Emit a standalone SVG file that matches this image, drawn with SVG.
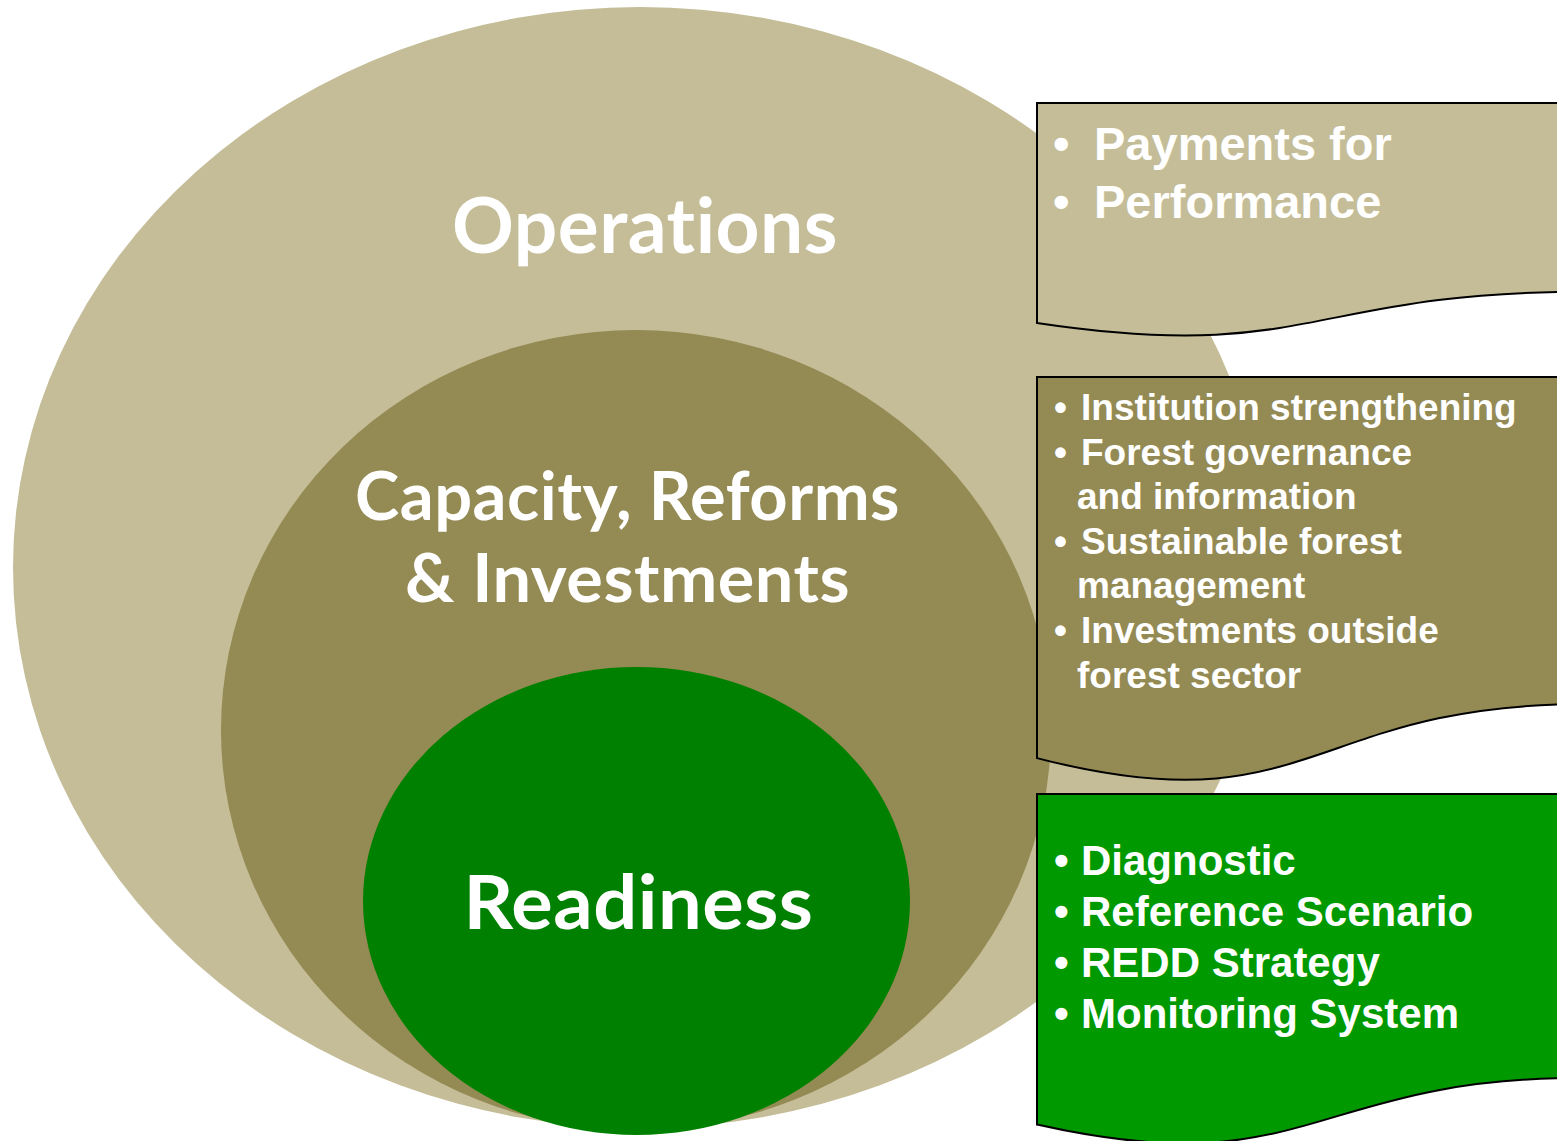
<svg xmlns="http://www.w3.org/2000/svg" width="1557" height="1141" viewBox="0 0 1557 1141">
  <style>
    .big { font-family: Lato, "Open Sans", "Liberation Sans", sans-serif; font-weight: 700; fill: #FFFFFF; text-anchor: middle; font-variant-ligatures: none; font-feature-settings: "liga" 0, "clig" 0, "dlig" 0; letter-spacing: 0.5px; }
    .lst { font-family: "Liberation Sans", Arial, sans-serif; font-weight: 700; fill: #FFFFFF; }
    .doc { stroke: #000000; stroke-width: 2; }
  </style>
  <rect x="0" y="0" width="1557" height="1141" fill="#FFFFFF"/>

  <g id="operations">
    <ellipse cx="640" cy="567.5" rx="627" ry="560.5" fill="#C4BD97"/>
    <text class="big" x="645" y="253" font-size="77" textLength="386" lengthAdjust="spacingAndGlyphs">Operations</text>
  </g>

  <g id="capacity">
    <ellipse cx="636" cy="730" rx="415" ry="400" fill="#948A54"/>
    <text class="big" x="627.5" y="520" font-size="66" textLength="545" lengthAdjust="spacingAndGlyphs">Capacity, Reforms</text>
    <text class="big" x="627.5" y="602" font-size="66" textLength="445" lengthAdjust="spacingAndGlyphs">&amp; Investments</text>
  </g>

  <g id="readiness">
    <ellipse cx="636.5" cy="901" rx="273.5" ry="234" fill="#008000"/>
    <text class="big" x="638.5" y="929" font-size="74" textLength="350" lengthAdjust="spacingAndGlyphs">Readiness</text>
  </g>

  <g id="box-operations">
    <path class="doc" fill="#C4BD97" d="M1037,103 H1582 V291.9 C1309.5,291.9 1309.5,363.8 1037,323 Z"/>
    <text class="lst" font-size="47">
      <tspan x="1053" y="160">•</tspan><tspan x="1094" y="160">Payments for</tspan>
      <tspan x="1053" y="218">•</tspan><tspan x="1094" y="218">Performance</tspan>
    </text>
  </g>

  <g id="box-capacity">
    <path class="doc" fill="#948A54" d="M1037,377 H1582 V704.2 C1309.5,704.2 1309.5,828.9 1037,758.1 Z"/>
    <text class="lst" font-size="37">
      <tspan x="1054" y="420">•</tspan><tspan x="1081" y="420">Institution strengthening</tspan>
      <tspan x="1054" y="465">•</tspan><tspan x="1081" y="465">Forest governance</tspan>
      <tspan x="1077" y="509">and information</tspan>
      <tspan x="1054" y="554">•</tspan><tspan x="1081" y="554">Sustainable forest</tspan>
      <tspan x="1077" y="598">management</tspan>
      <tspan x="1054" y="643">•</tspan><tspan x="1081" y="643">Investments outside</tspan>
      <tspan x="1077" y="688">forest sector</tspan>
    </text>
  </g>

  <g id="box-readiness">
    <path class="doc" fill="#009900" d="M1037,794 H1582 V1077.9 C1309.5,1077.9 1309.5,1186 1037,1124.6 Z"/>
    <text class="lst" font-size="42">
      <tspan x="1054" y="875">•</tspan><tspan x="1081" y="875">Diagnostic</tspan>
      <tspan x="1054" y="926">•</tspan><tspan x="1081" y="926">Reference Scenario</tspan>
      <tspan x="1054" y="977">•</tspan><tspan x="1081" y="977">REDD Strategy</tspan>
      <tspan x="1054" y="1028">•</tspan><tspan x="1081" y="1028">Monitoring System</tspan>
    </text>
  </g>

  <g id="connectors"></g>
</svg>
